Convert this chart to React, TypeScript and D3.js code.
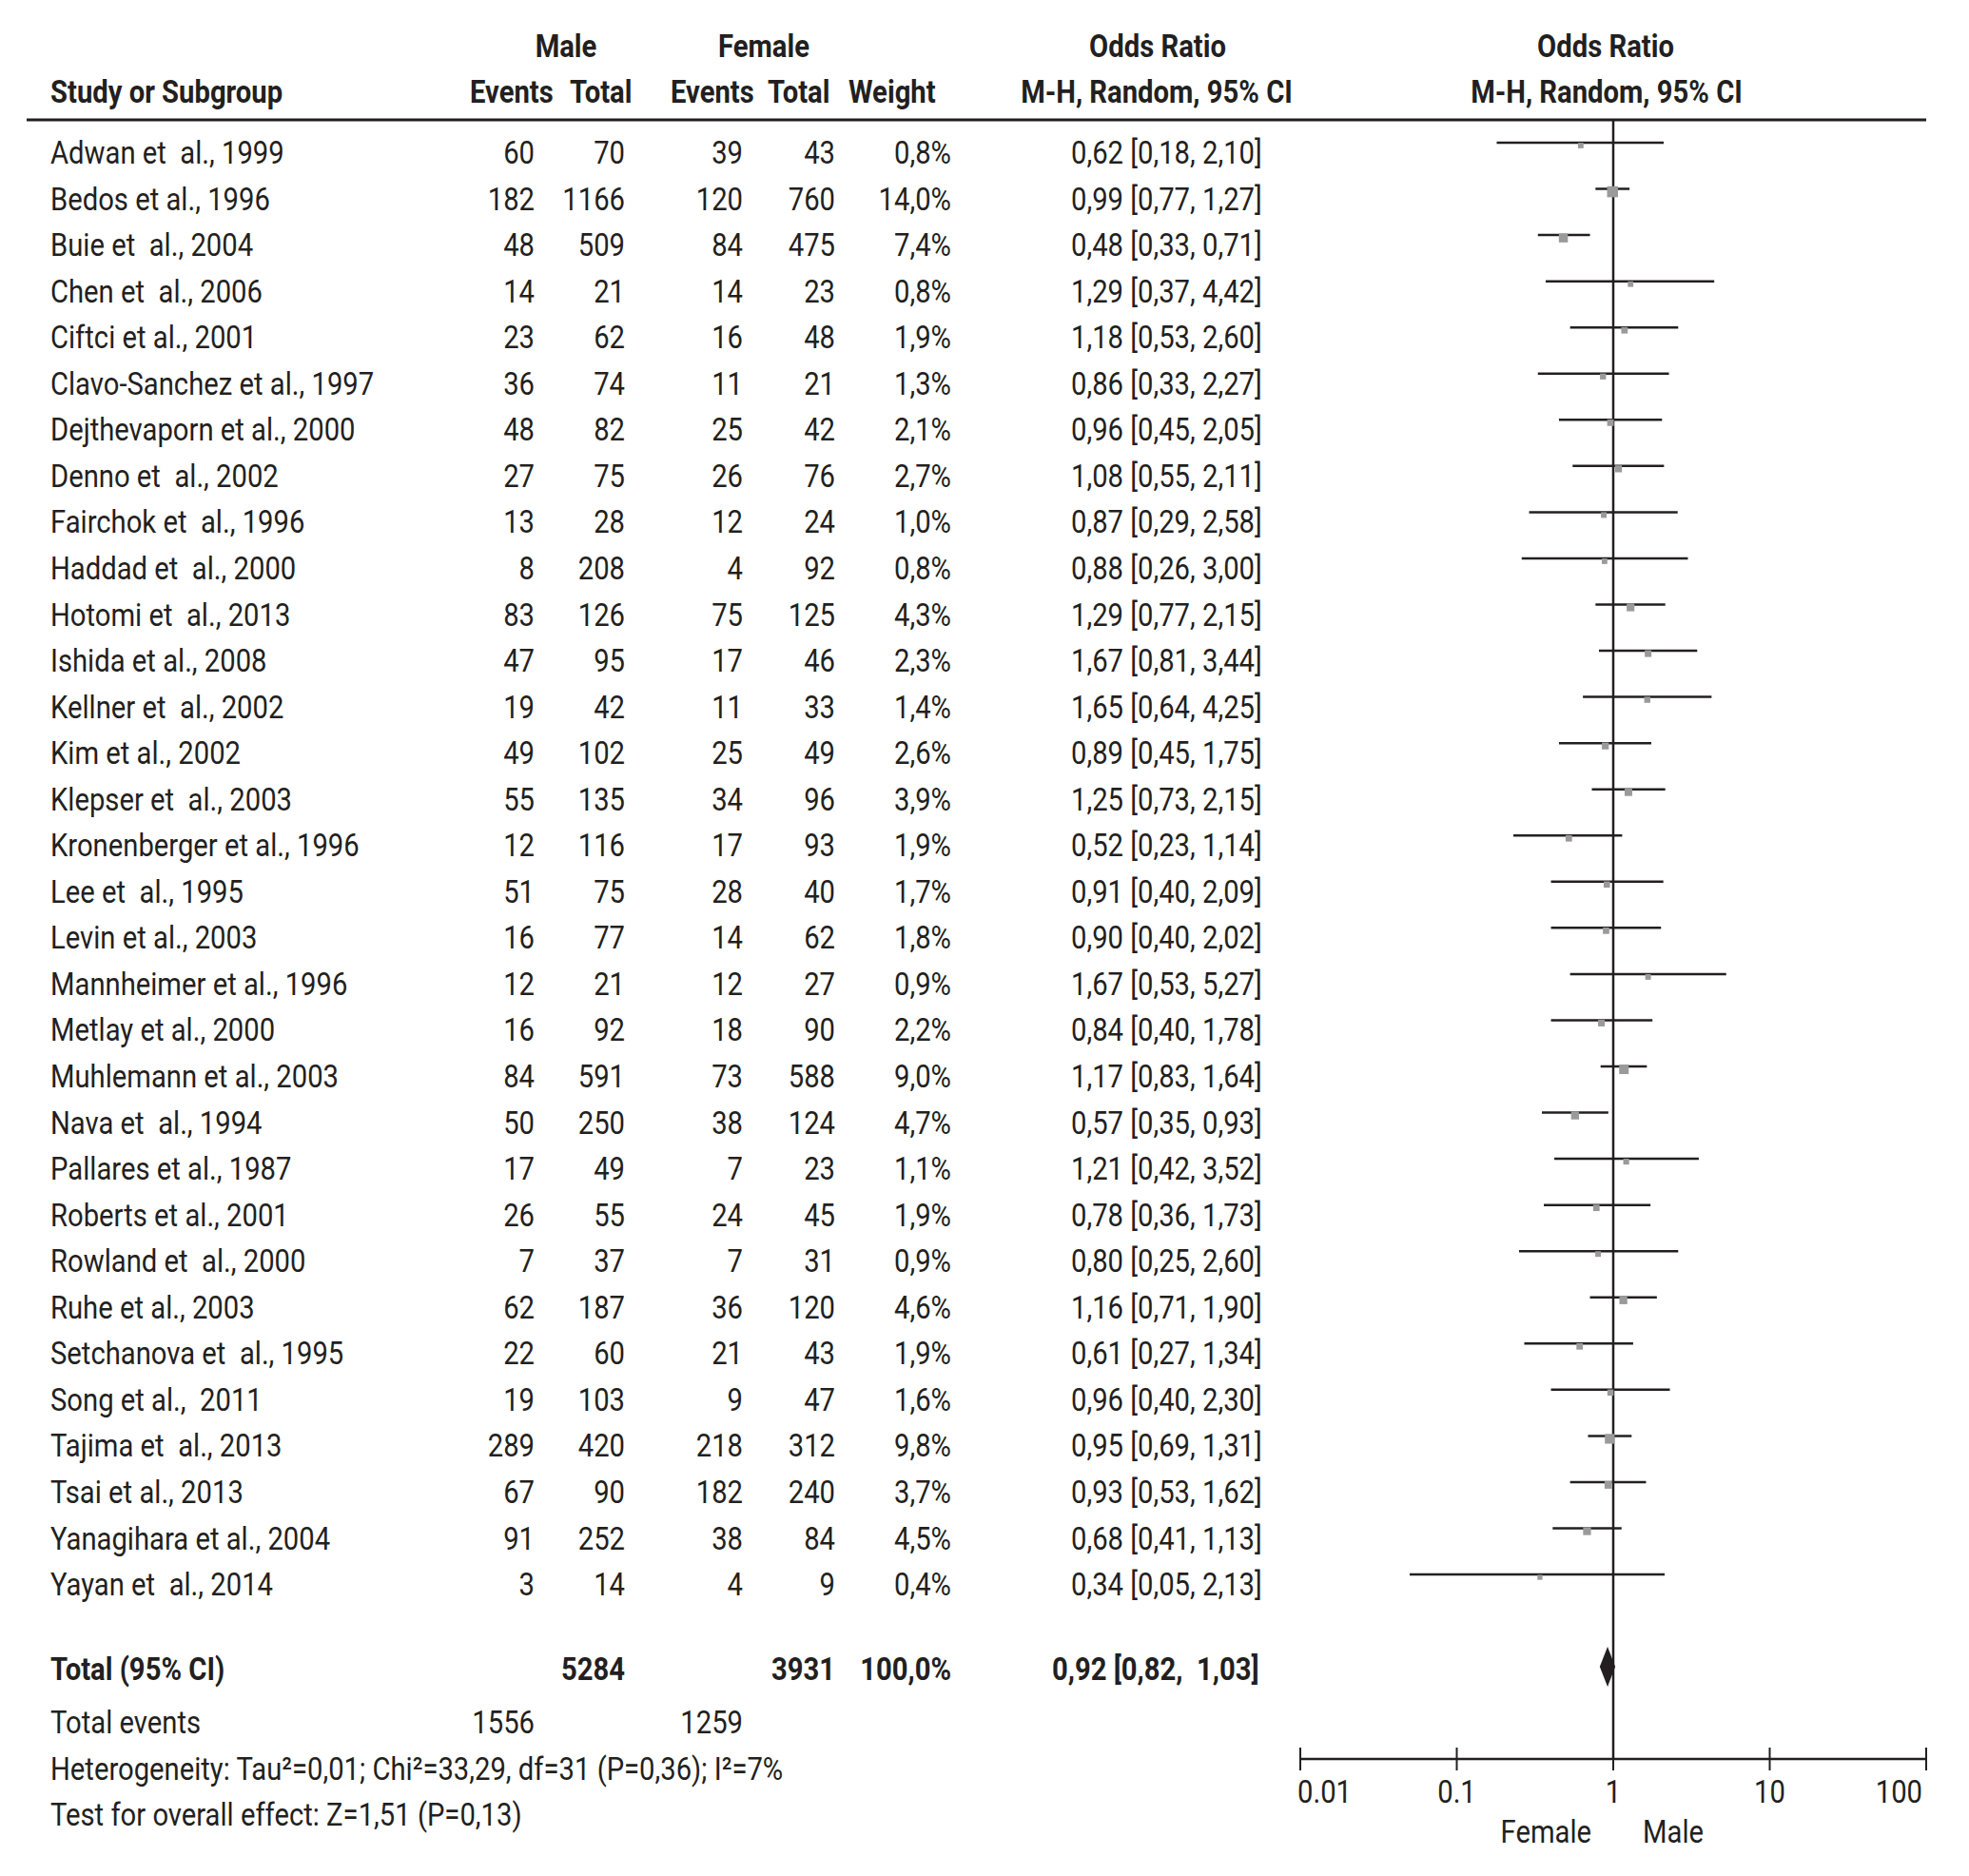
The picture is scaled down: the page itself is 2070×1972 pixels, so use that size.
import React from 'react';
import * as d3 from 'd3';

const studies = [
  'Adwan et  al., 1999', 'Bedos et al., 1996', 'Buie et  al., 2004', 'Chen et  al., 2006',
  'Ciftci et al., 2001', 'Clavo-Sanchez et al., 1997', 'Dejthevaporn et al., 2000', 'Denno et  al., 2002',
  'Fairchok et  al., 1996', 'Haddad et  al., 2000', 'Hotomi et  al., 2013', 'Ishida et al., 2008',
  'Kellner et  al., 2002', 'Kim et al., 2002', 'Klepser et  al., 2003', 'Kronenberger et al., 1996',
  'Lee et  al., 1995', 'Levin et al., 2003', 'Mannheimer et al., 1996', 'Metlay et al., 2000',
  'Muhlemann et al., 2003', 'Nava et  al., 1994', 'Pallares et al., 1987', 'Roberts et al., 2001',
  'Rowland et  al., 2000', 'Ruhe et al., 2003', 'Setchanova et  al., 1995', 'Song et al.,  2011',
  'Tajima et  al., 2013', 'Tsai et al., 2013', 'Yanagihara et al., 2004', 'Yayan et  al., 2014',
];
const maleEvents = [60, 182, 48, 14, 23, 36, 48, 27, 13, 8, 83, 47, 19, 49, 55, 12, 51, 16, 12, 16, 84, 50, 17, 26, 7, 62, 22, 19, 289, 67, 91, 3];
const maleTotal = [70, 1166, 509, 21, 62, 74, 82, 75, 28, 208, 126, 95, 42, 102, 135, 116, 75, 77, 21, 92, 591, 250, 49, 55, 37, 187, 60, 103, 420, 90, 252, 14];
const femaleEvents = [39, 120, 84, 14, 16, 11, 25, 26, 12, 4, 75, 17, 11, 25, 34, 17, 28, 14, 12, 18, 73, 38, 7, 24, 7, 36, 21, 9, 218, 182, 38, 4];
const femaleTotal = [43, 760, 475, 23, 48, 21, 42, 76, 24, 92, 125, 46, 33, 49, 96, 93, 40, 62, 27, 90, 588, 124, 23, 45, 31, 120, 43, 47, 312, 240, 84, 9];
const weights = [0.8, 14.0, 7.4, 0.8, 1.9, 1.3, 2.1, 2.7, 1.0, 0.8, 4.3, 2.3, 1.4, 2.6, 3.9, 1.9, 1.7, 1.8, 0.9, 2.2, 9.0, 4.7, 1.1, 1.9, 0.9, 4.6, 1.9, 1.6, 9.8, 3.7, 4.5, 0.4];
const oddsRatio = [0.62, 0.99, 0.48, 1.29, 1.18, 0.86, 0.96, 1.08, 0.87, 0.88, 1.29, 1.67, 1.65, 0.89, 1.25, 0.52, 0.91, 0.90, 1.67, 0.84, 1.17, 0.57, 1.21, 0.78, 0.80, 1.16, 0.61, 0.96, 0.95, 0.93, 0.68, 0.34];
const ciLower = [0.18, 0.77, 0.33, 0.37, 0.53, 0.33, 0.45, 0.55, 0.29, 0.26, 0.77, 0.81, 0.64, 0.45, 0.73, 0.23, 0.40, 0.40, 0.53, 0.40, 0.83, 0.35, 0.42, 0.36, 0.25, 0.71, 0.27, 0.40, 0.69, 0.53, 0.41, 0.05];
const ciUpper = [2.10, 1.27, 0.71, 4.42, 2.60, 2.27, 2.05, 2.11, 2.58, 3.00, 2.15, 3.44, 4.25, 1.75, 2.15, 1.14, 2.09, 2.02, 5.27, 1.78, 1.64, 0.93, 3.52, 1.73, 2.60, 1.90, 1.34, 2.30, 1.31, 1.62, 1.13, 2.13];

const total = { maleTotal: 5284, femaleTotal: 3931, weight: 100.0, or: 0.92, lower: 0.82, upper: 1.03, maleEvents: 1556, femaleEvents: 1259 };
const axisTicks = [0.01, 0.1, 1, 10, 100];
const axisLabels = ['0.01', '0.1', '1', '10', '100'];

const INK = '#231f20';
const FONT = 'Roboto, "Noto Sans", sans-serif';
const FS = 34;
const SX = 0.86;

const comma = (v: number, d = 2) => v.toFixed(d).replace('.', ',');

function T({ x, y, anchor = 'start', bold = false, children }: any) {
  return (
    <text
      transform={`translate(${x},${y}) scale(${SX},1)`}
      textAnchor={anchor}
      fontFamily={FONT}
      fontSize={FS}
      fontWeight={bold ? 700 : 400}
      fill={INK}
      style={{ whiteSpace: 'pre' }}
    >
      {children}
    </text>
  );
}

export default function App() {
  const width = 2070;
  const height = 1972;

  const x = d3.scaleLog().domain([0.01, 100]).range([1367, 2025]);
  const rowY = d3.scaleLinear().domain([0, studies.length - 1]).range([172, 172 + 48.55 * (studies.length - 1)]);
  const sq = d3.scaleSqrt().domain([0, 14]).range([4, 11.5]);

  const col = { name: 53, mEv: 562, mTot: 657, fEv: 781, fTot: 878, w: 1000, or: 1126 };
  const axisY = 1849;
  const x1 = x(1);

  const diamondY = 1752;
  const diamond = [
    [x(total.lower), diamondY],
    [x(total.or), diamondY - 21],
    [x(total.upper), diamondY],
    [x(total.or), diamondY + 21],
  ];

  return (
    <div style={{ position: 'absolute', left: 0, top: 0 }}>
      <svg width={width} height={height} style={{ display: 'block', background: '#fff' }}>
        {/* headers */}
        <T x={595} y={60} anchor="middle" bold>Male</T>
        <T x={803} y={60} anchor="middle" bold>Female</T>
        <T x={1217} y={60} anchor="middle" bold>Odds Ratio</T>
        <T x={1688} y={60} anchor="middle" bold>Odds Ratio</T>
        <T x={53} y={108} bold>Study or Subgroup</T>
        <T x={494} y={108} bold>Events</T>
        <T x={599} y={108} bold>Total</T>
        <T x={705} y={108} bold>Events</T>
        <T x={807} y={108} bold>Total</T>
        <T x={892} y={108} bold>Weight</T>
        <T x={1216} y={108} anchor="middle" bold>M-H, Random, 95% CI</T>
        <T x={1689} y={108} anchor="middle" bold>M-H, Random, 95% CI</T>
        <line x1={28} x2={2025} y1={126} y2={126} stroke={INK} strokeWidth={3} />

        {/* rows */}
        {studies.map((s, i) => {
          const y = rowY(i);
          return (
            <g key={s}>
              <T x={col.name} y={y}>{s}</T>
              <T x={col.mEv} y={y} anchor="end">{maleEvents[i]}</T>
              <T x={col.mTot} y={y} anchor="end">{maleTotal[i]}</T>
              <T x={col.fEv} y={y} anchor="end">{femaleEvents[i]}</T>
              <T x={col.fTot} y={y} anchor="end">{femaleTotal[i]}</T>
              <T x={col.w} y={y} anchor="end">{comma(weights[i], 1) + '%'}</T>
              <T x={col.or} y={y}>{`${comma(oddsRatio[i])} [${comma(ciLower[i])}, ${comma(ciUpper[i])}]`}</T>
            </g>
          );
        })}

        {/* forest plot */}
        <line x1={x1} x2={x1} y1={126} y2={axisY} stroke={INK} strokeWidth={2.5} />
        {studies.map((s, i) => {
          const ly = rowY(i) - 22;
          const size = sq(weights[i]);
          return (
            <g key={'f' + s}>
              <line x1={x(ciLower[i])} x2={x(ciUpper[i])} y1={ly} y2={ly} stroke={INK} strokeWidth={2.5} />
              <rect x={x(oddsRatio[i]) - size / 2} y={ly + 3 - size / 2} width={size} height={size} fill="#9a9a9a" />
            </g>
          );
        })}
        <polygon points={diamond.map(p => p.join(',')).join(' ')} fill={INK} />

        {/* total */}
        <T x={col.name} y={1766} bold>Total (95% CI)</T>
        <T x={col.mTot} y={1766} anchor="end" bold>{total.maleTotal}</T>
        <T x={col.fTot} y={1766} anchor="end" bold>{total.femaleTotal}</T>
        <T x={col.w} y={1766} anchor="end" bold>{comma(total.weight, 1) + '%'}</T>
        <T x={1106} y={1766} bold>{`${comma(total.or)} [${comma(total.lower)},  ${comma(total.upper)}]`}</T>
        <T x={col.name} y={1822}>Total events</T>
        <T x={col.mEv} y={1822} anchor="end">{total.maleEvents}</T>
        <T x={col.fEv} y={1822} anchor="end">{total.femaleEvents}</T>
        <T x={col.name} y={1871}>Heterogeneity: Tau²=0,01; Chi²=33,29, df=31 (P=0,36); I²=7%</T>
        <T x={col.name} y={1919}>Test for overall effect: Z=1,51 (P=0,13)</T>

        {/* axis */}
        <line x1={x(0.01)} x2={x(100)} y1={axisY} y2={axisY} stroke={INK} strokeWidth={2.5} />
        {axisTicks.map((t, i) => (
          <g key={t}>
            <line x1={x(t)} x2={x(t)} y1={axisY - 12} y2={axisY + 12} stroke={INK} strokeWidth={2} />
            <T
              x={i === 0 ? x(t) - 3 : i === axisTicks.length - 1 ? x(t) - 4 : x(t)}
              y={1895}
              anchor={i === 0 ? 'start' : i === axisTicks.length - 1 ? 'end' : 'middle'}
            >
              {axisLabels[i]}
            </T>
          </g>
        ))}
        <T x={x1 - 23} y={1937} anchor="end">Female</T>
        <T x={x1 + 31} y={1937}>Male</T>
      </svg>
    </div>
  );
}
